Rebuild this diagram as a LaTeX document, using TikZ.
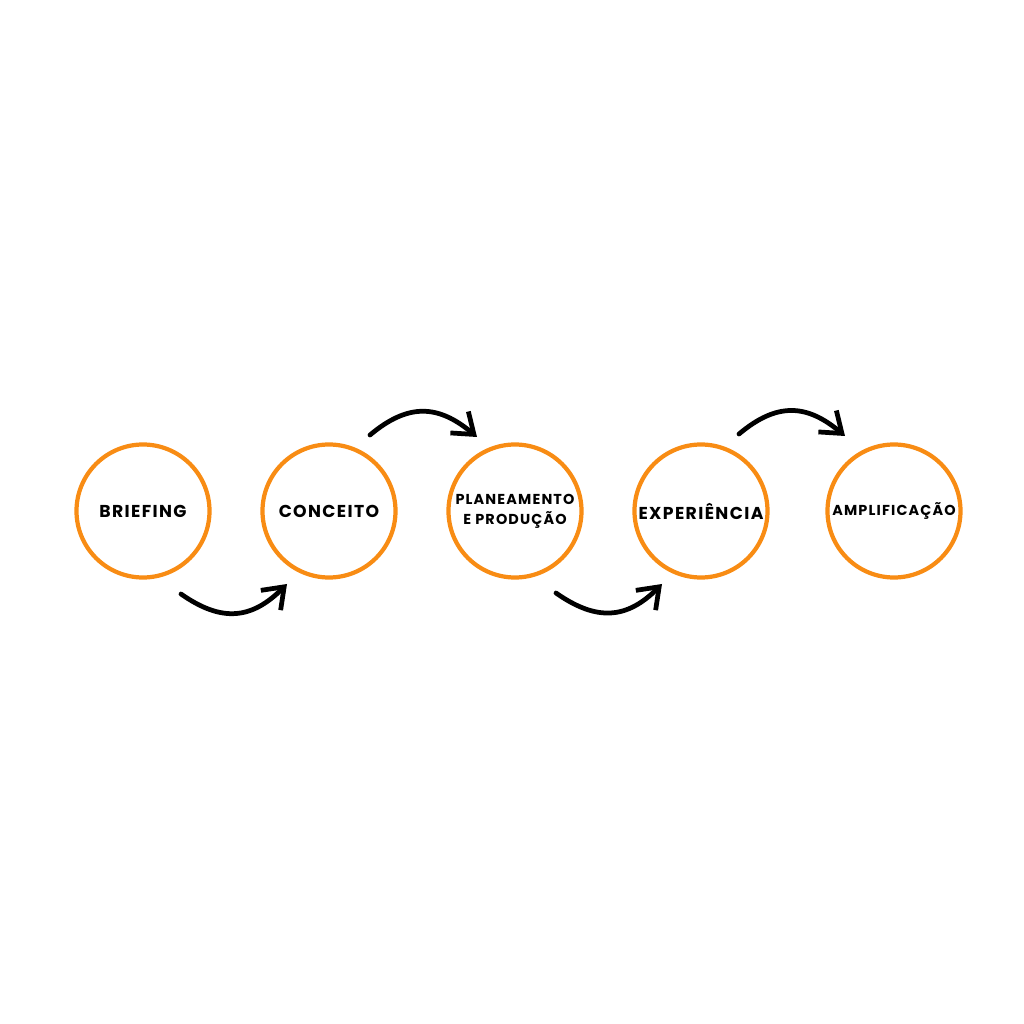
\documentclass[tikz,border=0pt]{standalone}
\usepackage{fontspec}
\newfontfamily\stagefont{Poppins}[LetterSpace=8]
\usetikzlibrary{arrows.meta}
\definecolor{stageorange}{RGB}{248,140,20}
\tikzset{
  stage/.style={circle, draw=stageorange, line width=1.2pt, minimum size=1.33cm,
    inner sep=0pt, align=center, font=\stagefont\bfseries\fontsize{4.9}{6}\selectfont},
  small/.style={font=\stagefont\bfseries\fontsize{4.1}{5.6}\selectfont},
  flow/.style={line width=1.35pt, line cap=round, looseness=1.2,
    -{Straight Barb[length=1.9mm,width=2.8mm,line width=1.35pt]}}
}
\begin{document}
\begin{tikzpicture}
  \useasboundingbox (0, 0) rectangle (10.24, 10.24);
  \foreach \x/\name/\txt in {1.43/b1/BRIEFING, 3.29/b2/CONCEITO, 7.01/b4/EXPERIÊNCIA}
    \node[stage] (\name) at (\x, 5.13) {\txt};
  \node[stage, small] (b3) at (5.15, 5.13) {PLANEAMENTO\\E PRODUÇÃO};
  \node[stage, small] (b5) at (8.94, 5.13) {AMPLIFICAÇÃO};
  % lower arrows
  \draw[flow] ([shift={(0.38, -0.83)}]b1.center) to[out=-35, in=-135] ([shift={(-0.42, -0.73)}]b2.center);
  \draw[flow] ([shift={(0.41, -0.82)}]b3.center) to[out=-35, in=-135] ([shift={(-0.39, -0.73)}]b4.center);
  % upper arrows
  \draw[flow] ([shift={(0.41, 0.76)}]b2.center) to[out=40, in=140] ([shift={(-0.38, 0.74)}]b3.center);
  \draw[flow] ([shift={(0.38, 0.77)}]b4.center) to[out=40, in=140] ([shift={(-0.49, 0.75)}]b5.center);
\end{tikzpicture}
\end{document}
